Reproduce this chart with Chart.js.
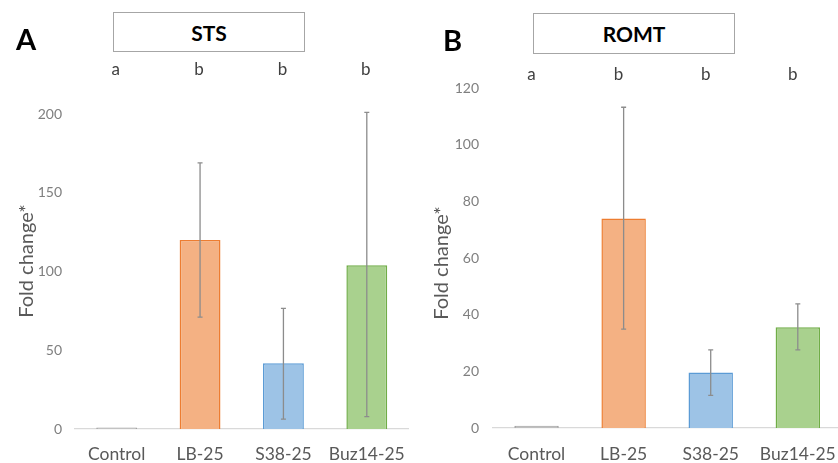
<!DOCTYPE html>
<html>
<head>
<meta charset="utf-8">
<script src="https://cdn.jsdelivr.net/npm/chart.js@4.4.0/dist/chart.umd.min.js"></script>
<style>
  html, body { margin:0; padding:0; width:838px; height:463px; overflow:hidden; background:#fff; }
  .wrap { position:absolute; top:0; height:463px; }
  .box { position:absolute; border:1px solid #a6a6a6; box-sizing:border-box; display:flex; align-items:center; justify-content:center;
         font-family:Lato, "Open Sans", sans-serif; font-weight:bold; font-size:21px; color:#000; background:#fff; }
  .panel { position:absolute; font-family:Lato, "Open Sans", sans-serif; font-weight:bold; font-size:29px; color:#000; line-height:1; }
</style>
</head>
<body>
<div class="wrap" style="left:0;width:420px;"><canvas id="cA"></canvas></div>
<div class="wrap" style="left:420px;width:432px;"><canvas id="cB"></canvas></div>
<div class="panel" style="left:16px;top:24px;">A</div>
<div class="panel" style="left:443px;top:25px;">B</div>
<div class="box" style="left:113px;top:12px;width:192px;height:40px;">STS</div>
<div class="box" style="left:533px;top:13px;width:202px;height:41px;">ROMT</div>
<script>
const categories = ["Control", "LB-25", "S38-25", "Buz14-25"];
const groupLetters = ["a", "b", "b", "b"];

const stsValues  = [1, 120, 41.7, 104];
const stsErrHigh = [1, 169, 76.6, 201];
const stsErrLow  = [1, 71, 6.3, 7.8];
const stsTicks   = [0, 50, 100, 150, 200];

const romtValues  = [0.8, 73.9, 19.6, 35.6];
const romtErrHigh = [0.8, 113.2, 27.6, 43.8];
const romtErrLow  = [0.8, 34.9, 11.5, 27.6];
const romtTicks   = [0, 20, 40, 60, 80, 100, 120];

const fills   = ["#bfbfbf", "#f4b183", "#9dc3e6", "#a9d18e"];
const borders = ["#a0a0a0", "#ed7d31", "#5b9bd5", "#70ad47"];

function makeChart(id, values, hi, lo, ticks, cfg) {
  const errPlugin = {
    id: 'extras',
    afterDatasetsDraw(chart) {
      const ctx = chart.ctx, x = chart.scales.x, y = chart.scales.y;
      ctx.save();
      ctx.strokeStyle = '#8c8c8c';
      ctx.lineWidth = 1.3;
      values.forEach((v, i) => {
        if (hi[i] - lo[i] < 0.5) return;
        const px = x.getPixelForValue(i);
        const yh = y.getPixelForValue(hi[i]), yl = y.getPixelForValue(lo[i]);
        ctx.beginPath();
        ctx.moveTo(px, yh); ctx.lineTo(px, yl);
        ctx.moveTo(px - 2.5, yh); ctx.lineTo(px + 2.5, yh);
        ctx.moveTo(px - 2.5, yl); ctx.lineTo(px + 2.5, yl);
        ctx.stroke();
      });
      ctx.fillStyle = '#404040';
      ctx.font = '17px Lato, "Open Sans", sans-serif';
      ctx.textAlign = 'center';
      ctx.textBaseline = 'middle';
      groupLetters.forEach((g, i) => {
        ctx.fillText(g, x.getPixelForValue(i) + cfg.letterDx, cfg.letterY);
      });
      ctx.save();
      ctx.translate(cfg.titleX, cfg.titleY);
      ctx.rotate(-Math.PI / 2);
      ctx.fillStyle = '#595959';
      ctx.font = '20px Lato, "Open Sans", sans-serif';
      ctx.fillText('Fold change*', 0, 0);
      ctx.restore();
      ctx.restore();
    }
  };
  return new Chart(document.getElementById(id), {
    type: 'bar',
    data: {
      labels: categories,
      datasets: [{
        data: values,
        backgroundColor: fills,
        borderColor: borders,
        borderWidth: 1.5,
        categoryPercentage: 1.0,
        barPercentage: cfg.barPct
      }]
    },
    options: {
      responsive: true,
      maintainAspectRatio: false,
      animation: false,
      devicePixelRatio: 1,
      layout: { padding: { top: cfg.top, right: cfg.right, left: 0, bottom: 0 } },
      plugins: { legend: { display: false }, tooltip: { enabled: false }, title: { display: false } },
      scales: {
        x: {
          grid: { display: false, drawTicks: false },
          border: { display: true, color: '#d9d9d9', width: 1.3 },
          ticks: { color: '#595959', font: { family: 'Lato, "Open Sans", sans-serif', size: 17.5 }, padding: cfg.xPad, maxRotation: 0, autoSkip: false },
          afterFit(s) { s.height = cfg.xH; }
        },
        y: {
          min: 0, max: ticks[ticks.length - 1],
          afterBuildTicks(s) { s.ticks = ticks.map(v => ({ value: v })); },
          grid: { display: false, drawTicks: false },
          border: { display: false },
          ticks: { color: '#7f7f7f', font: { family: 'Lato, "Open Sans", sans-serif', size: 14 }, padding: cfg.yPad },
          afterFit(s) { s.width = cfg.yW; }
        }
      }
    },
    plugins: [errPlugin]
  });
}

makeChart('cA', stsValues, stsErrHigh, stsErrLow, stsTicks,
  { top: 114, right: 2, xH: 34, yW: 75, xPad: 15, yPad: 13, barPct: 0.49, letterY: 70, letterDx: -1, titleX: 27, titleY: 261 });
makeChart('cB', romtValues, romtErrHigh, romtErrLow, romtTicks,
  { top: 88, right: 2, xH: 35, yW: 73, xPad: 16, yPad: 14, barPct: 0.51, letterY: 75, letterDx: -5, titleX: 22, titleY: 263 });
</script>
</body>
</html>
